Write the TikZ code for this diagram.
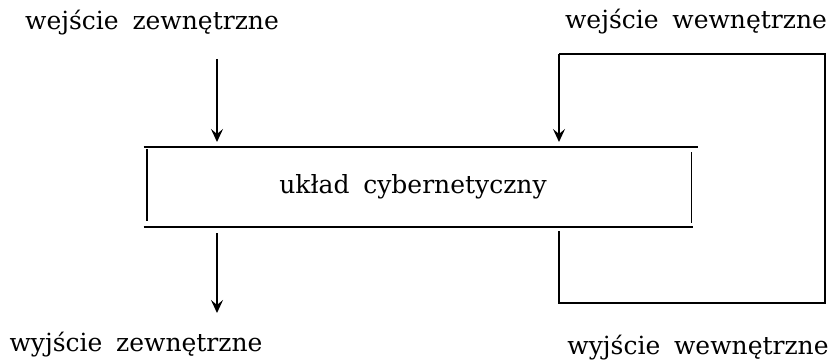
\documentclass[tikz,border=0pt]{standalone}
\usepackage{fontspec}
\setmainfont{DejaVu Serif}
\usetikzlibrary{arrows.meta}
\newcommand{\wgap}{\hspace{0.55em}}
\begin{document}
\begin{tikzpicture}[x=1pt,y=-1pt,
  line width=1.6pt,
  lbl/.style={font=\fontsize{25}{29}\selectfont, inner sep=0pt},
  flow/.style={-{Stealth[length=13pt,width=12pt,inset=5pt]}}]
\useasboundingbox (0,0) rectangle (829,361);

% labels
\node[lbl] (inext)  at (152,23)  {wejście\wgap zewnętrzne};
\node[lbl] (inint)  at (696,22)  {wejście\wgap wewnętrzne};
\node[lbl] (outext) at (136,345) {wyjście\wgap zewnętrzne};
\node[lbl] (outint) at (698,348) {wyjście\wgap wewnętrzne};

% system block
\node[lbl, minimum width=543pt, minimum height=78pt] (sys) at (419,187) {};
\node[lbl] (systxt) at (413,187) {układ\wgap cybernetyczny};
\draw ([xshift=-3pt]sys.north west) -- ([xshift=7pt]sys.north east);
\draw ([xshift=-3pt]sys.south west) -- ([xshift=2pt]sys.south east);
\draw ([yshift=-2pt]sys.north west) -- ([yshift=6pt]sys.south west);
\draw ([yshift=-5pt]sys.north east) -- ([yshift=4pt]sys.south east);

% external input and output
\coordinate (a1) at (217,59);
\coordinate (a2) at (217,142);
\draw[flow] (a1) -- (a2);
\coordinate (b1) at (217,233);
\coordinate (b2) at (217,313);
\draw[flow] (b1) -- (b2);

% feedback loop from internal output to internal input
\coordinate (f0) at (559,231);
\coordinate (f1) at (559,303);
\coordinate (f2) at (825,303);
\coordinate (f3) at (825,54);
\coordinate (f4) at (559,54);
\coordinate (f5) at (559,142);
\draw (f0) -- (f1) -- (f2) -- (f3) -- (f4);
\draw[flow] (f4) -- (f5);
\end{tikzpicture}
\end{document}
